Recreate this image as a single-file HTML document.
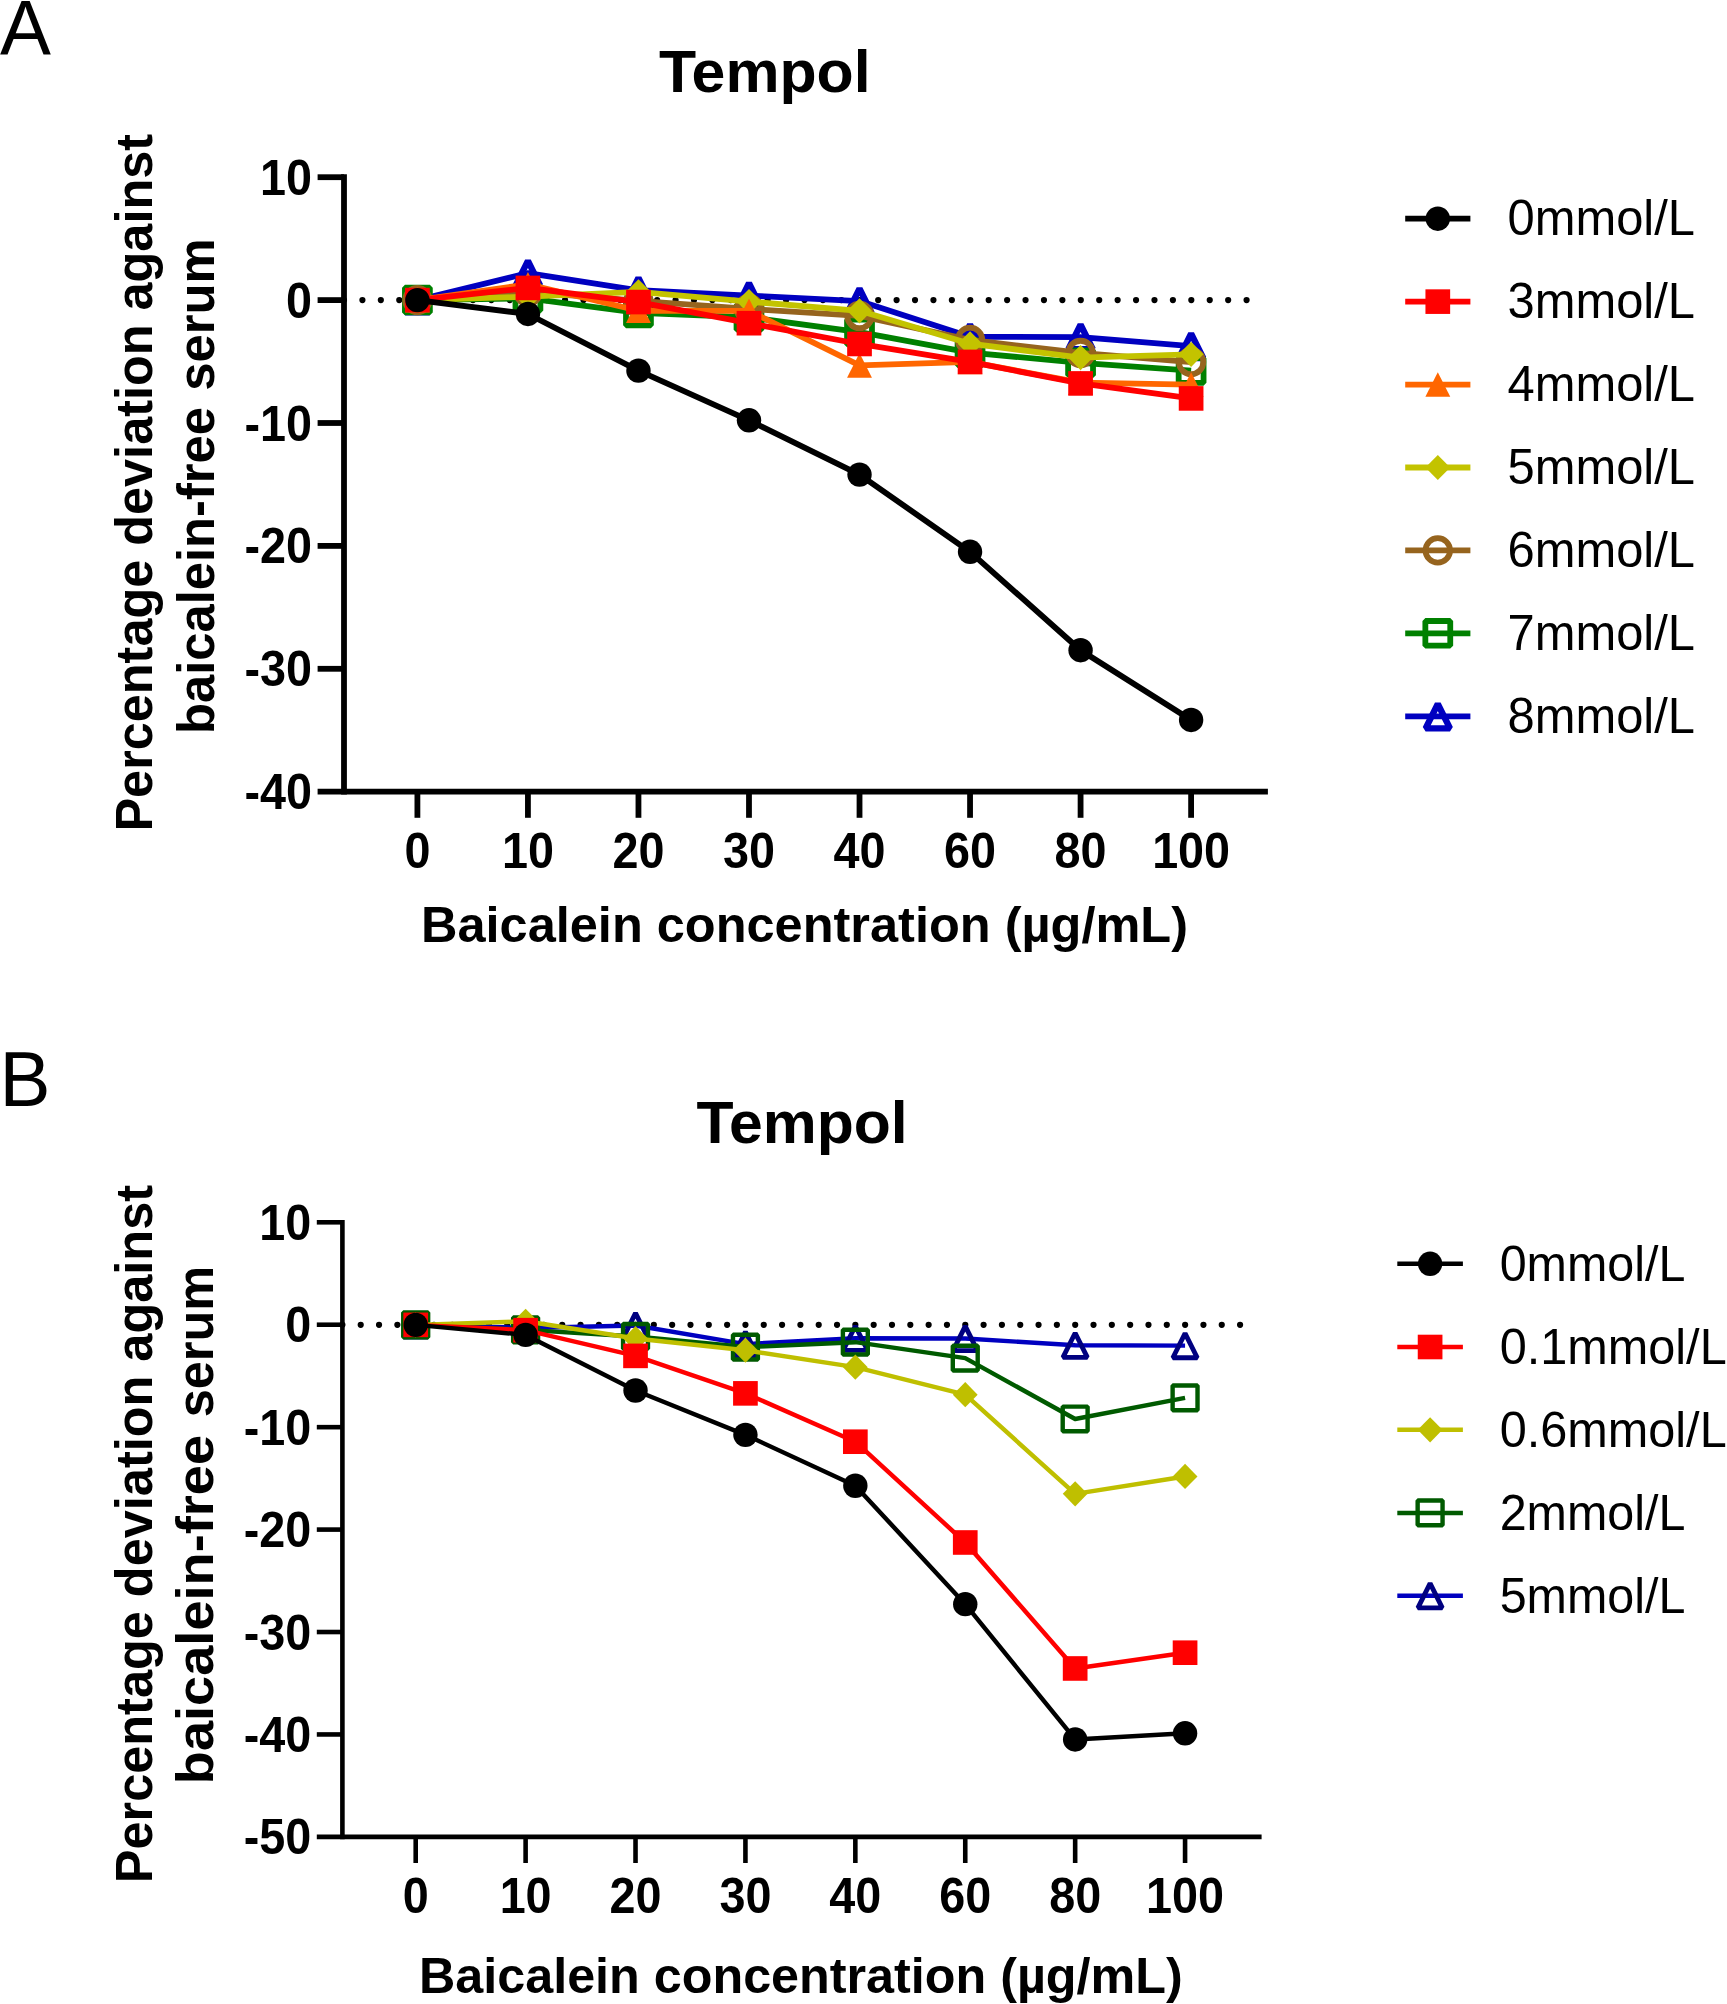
<!DOCTYPE html>
<html lang="en"><head><meta charset="utf-8"><title>Tempol - percentage deviation against baicalein-free serum</title>
<style>html,body{margin:0;padding:0;background:#fff}svg{display:block;filter:blur(0.5px)}text{font-family:"Liberation Sans", sans-serif;fill:#000}</style></head>
<body>
<svg width="1727" height="2004" viewBox="0 0 1727 2004">
<rect width="1727" height="2004" fill="#fff"/>
<text transform="translate(0,55.3) scale(0.972,1)" font-size="78.6">A</text>
<text transform="translate(-0.6,1105.6) scale(0.975,1)" font-size="78.4">B</text>
<g id="panelA">
<line x1="344" y1="300.1" x2="1250" y2="300.1" stroke="#000" stroke-width="6.2" stroke-linecap="round" stroke-dasharray="0 18.42"/>
<g><polyline points="417.4,300.1 527.93,273.18 638.46,290.27 748.99,295.55 859.52,301.08 970.05,336.85 1080.58,337.09 1191.11,346.06" fill="none" stroke="#0000C0" stroke-width="5.8" stroke-linejoin="round"/><polygon points="417.4,287.8 429.6,312.22 405.2,312.22" fill="none" stroke="#0000C0" stroke-width="6.35" stroke-linejoin="bevel"/><polygon points="527.93,260.88 540.13,285.3 515.73,285.3" fill="none" stroke="#0000C0" stroke-width="6.35" stroke-linejoin="bevel"/><polygon points="638.46,277.97 650.66,302.39 626.26,302.39" fill="none" stroke="#0000C0" stroke-width="6.35" stroke-linejoin="bevel"/><polygon points="748.99,283.25 761.19,307.67 736.79,307.67" fill="none" stroke="#0000C0" stroke-width="6.35" stroke-linejoin="bevel"/><polygon points="859.52,288.78 871.72,313.2 847.32,313.2" fill="none" stroke="#0000C0" stroke-width="6.35" stroke-linejoin="bevel"/><polygon points="970.05,324.55 982.25,348.97 957.85,348.97" fill="none" stroke="#0000C0" stroke-width="6.35" stroke-linejoin="bevel"/><polygon points="1080.58,324.79 1092.78,349.21 1068.38,349.21" fill="none" stroke="#0000C0" stroke-width="6.35" stroke-linejoin="bevel"/><polygon points="1191.11,333.76 1203.31,358.18 1178.91,358.18" fill="none" stroke="#0000C0" stroke-width="6.35" stroke-linejoin="bevel"/></g>
<g><polyline points="417.4,300.1 527.93,298.26 638.46,312.88 748.99,317.31 859.52,332.05 970.05,352.7 1080.58,362.78 1191.11,370.52" fill="none" stroke="#008000" stroke-width="5.8" stroke-linejoin="round"/><rect x="404.95" y="287.75" width="24.9" height="24.7" fill="none" stroke="#008000" stroke-width="5.8" stroke-linejoin="bevel"/><rect x="515.48" y="285.91" width="24.9" height="24.7" fill="none" stroke="#008000" stroke-width="5.8" stroke-linejoin="bevel"/><rect x="626.01" y="300.53" width="24.9" height="24.7" fill="none" stroke="#008000" stroke-width="5.8" stroke-linejoin="bevel"/><rect x="736.54" y="304.96" width="24.9" height="24.7" fill="none" stroke="#008000" stroke-width="5.8" stroke-linejoin="bevel"/><rect x="847.07" y="319.7" width="24.9" height="24.7" fill="none" stroke="#008000" stroke-width="5.8" stroke-linejoin="bevel"/><rect x="957.6" y="340.35" width="24.9" height="24.7" fill="none" stroke="#008000" stroke-width="5.8" stroke-linejoin="bevel"/><rect x="1068.13" y="350.43" width="24.9" height="24.7" fill="none" stroke="#008000" stroke-width="5.8" stroke-linejoin="bevel"/><rect x="1178.66" y="358.17" width="24.9" height="24.7" fill="none" stroke="#008000" stroke-width="5.8" stroke-linejoin="bevel"/></g>
<g><polyline points="417.4,300.1 527.93,291.74 638.46,300.96 748.99,308.95 859.52,315.95 970.05,339.92 1080.58,352.95 1191.11,362.04" fill="none" stroke="#96641E" stroke-width="5.8" stroke-linejoin="round"/><circle cx="417.4" cy="300.1" r="12.2" fill="none" stroke="#96641E" stroke-width="5.8"/><circle cx="527.93" cy="291.74" r="12.2" fill="none" stroke="#96641E" stroke-width="5.8"/><circle cx="638.46" cy="300.96" r="12.2" fill="none" stroke="#96641E" stroke-width="5.8"/><circle cx="748.99" cy="308.95" r="12.2" fill="none" stroke="#96641E" stroke-width="5.8"/><circle cx="859.52" cy="315.95" r="12.2" fill="none" stroke="#96641E" stroke-width="5.8"/><circle cx="970.05" cy="339.92" r="12.2" fill="none" stroke="#96641E" stroke-width="5.8"/><circle cx="1080.58" cy="352.95" r="12.2" fill="none" stroke="#96641E" stroke-width="5.8"/><circle cx="1191.11" cy="362.04" r="12.2" fill="none" stroke="#96641E" stroke-width="5.8"/></g>
<g><polyline points="417.4,300.1 527.93,296.66 638.46,291.87 748.99,301.57 859.52,310.79 970.05,343.73 1080.58,357.62 1191.11,354.3" fill="none" stroke="#C3C300" stroke-width="5.8" stroke-linejoin="round"/><polygon points="417.4,287.5 429.8,300.1 417.4,312.7 405,300.1" fill="#C3C300"/><polygon points="527.93,284.06 540.33,296.66 527.93,309.26 515.53,296.66" fill="#C3C300"/><polygon points="638.46,279.27 650.86,291.87 638.46,304.47 626.06,291.87" fill="#C3C300"/><polygon points="748.99,288.97 761.39,301.57 748.99,314.17 736.59,301.57" fill="#C3C300"/><polygon points="859.52,298.19 871.92,310.79 859.52,323.39 847.12,310.79" fill="#C3C300"/><polygon points="970.05,331.13 982.45,343.73 970.05,356.33 957.65,343.73" fill="#C3C300"/><polygon points="1080.58,345.02 1092.98,357.62 1080.58,370.22 1068.18,357.62" fill="#C3C300"/><polygon points="1191.11,341.7 1203.51,354.3 1191.11,366.9 1178.71,354.3" fill="#C3C300"/></g>
<g><polyline points="417.4,300.1 527.93,284.37 638.46,310.79 748.99,310.92 859.52,365.36 970.05,361.92 1080.58,382.69 1191.11,384.66" fill="none" stroke="#FF6600" stroke-width="5.8" stroke-linejoin="round"/><polygon points="417.4,287.8 429.85,312.4 404.95,312.4" fill="#FF6600"/><polygon points="527.93,272.07 540.38,296.67 515.48,296.67" fill="#FF6600"/><polygon points="638.46,298.49 650.91,323.09 626.01,323.09" fill="#FF6600"/><polygon points="748.99,298.62 761.44,323.22 736.54,323.22" fill="#FF6600"/><polygon points="859.52,353.06 871.97,377.66 847.07,377.66" fill="#FF6600"/><polygon points="970.05,349.62 982.5,374.22 957.6,374.22" fill="#FF6600"/><polygon points="1080.58,370.39 1093.03,394.99 1068.13,394.99" fill="#FF6600"/><polygon points="1191.11,372.36 1203.56,396.96 1178.66,396.96" fill="#FF6600"/></g>
<g><polyline points="417.4,300.1 527.93,287.93 638.46,302.07 748.99,323.21 859.52,343.98 970.05,361.92 1080.58,383.43 1191.11,398.42" fill="none" stroke="#FF0000" stroke-width="5.8" stroke-linejoin="round"/><rect x="405.05" y="287.8" width="24.7" height="24.6" fill="#FF0000"/><rect x="515.58" y="275.63" width="24.7" height="24.6" fill="#FF0000"/><rect x="626.11" y="289.77" width="24.7" height="24.6" fill="#FF0000"/><rect x="736.64" y="310.91" width="24.7" height="24.6" fill="#FF0000"/><rect x="847.17" y="331.68" width="24.7" height="24.6" fill="#FF0000"/><rect x="957.7" y="349.62" width="24.7" height="24.6" fill="#FF0000"/><rect x="1068.23" y="371.13" width="24.7" height="24.6" fill="#FF0000"/><rect x="1178.76" y="386.12" width="24.7" height="24.6" fill="#FF0000"/></g>
<g><polyline points="417.4,300.1 527.93,313.99 638.46,370.64 748.99,420.3 859.52,474.62 970.05,551.8 1080.58,650.24 1191.11,719.93" fill="none" stroke="#000000" stroke-width="5.8" stroke-linejoin="round"/><circle cx="417.4" cy="300.1" r="12.2" fill="#000000"/><circle cx="527.93" cy="313.99" r="12.2" fill="#000000"/><circle cx="638.46" cy="370.64" r="12.2" fill="#000000"/><circle cx="748.99" cy="420.3" r="12.2" fill="#000000"/><circle cx="859.52" cy="474.62" r="12.2" fill="#000000"/><circle cx="970.05" cy="551.8" r="12.2" fill="#000000"/><circle cx="1080.58" cy="650.24" r="12.2" fill="#000000"/><circle cx="1191.11" cy="719.93" r="12.2" fill="#000000"/></g>
<g stroke="#000" stroke-width="5.8" fill="none">
<line x1="344" y1="174.3" x2="344" y2="794.6"/>
<line x1="317.6" y1="791.7" x2="1267.9" y2="791.7"/>
<line x1="317.6" y1="177.2" x2="344" y2="177.2"/>
<line x1="317.6" y1="300.1" x2="344" y2="300.1"/>
<line x1="317.6" y1="423" x2="344" y2="423"/>
<line x1="317.6" y1="545.9" x2="344" y2="545.9"/>
<line x1="317.6" y1="668.8" x2="344" y2="668.8"/>
<line x1="417.4" y1="791.7" x2="417.4" y2="817.8"/>
<line x1="527.93" y1="791.7" x2="527.93" y2="817.8"/>
<line x1="638.46" y1="791.7" x2="638.46" y2="817.8"/>
<line x1="748.99" y1="791.7" x2="748.99" y2="817.8"/>
<line x1="859.52" y1="791.7" x2="859.52" y2="817.8"/>
<line x1="970.05" y1="791.7" x2="970.05" y2="817.8"/>
<line x1="1080.58" y1="791.7" x2="1080.58" y2="817.8"/>
<line x1="1191.11" y1="791.7" x2="1191.11" y2="817.8"/>
</g>
<g font-weight="bold" font-size="49.45">
<text transform="translate(417.4,868) scale(0.945,1)" text-anchor="middle">0</text>
<text transform="translate(527.93,868) scale(0.945,1)" text-anchor="middle">10</text>
<text transform="translate(638.46,868) scale(0.945,1)" text-anchor="middle">20</text>
<text transform="translate(748.99,868) scale(0.945,1)" text-anchor="middle">30</text>
<text transform="translate(859.52,868) scale(0.945,1)" text-anchor="middle">40</text>
<text transform="translate(970.05,868) scale(0.945,1)" text-anchor="middle">60</text>
<text transform="translate(1080.58,868) scale(0.945,1)" text-anchor="middle">80</text>
<text transform="translate(1191.11,868) scale(0.945,1)" text-anchor="middle">100</text>
<text transform="translate(312,194.7) scale(0.945,1)" text-anchor="end">10</text>
<text transform="translate(312,317.6) scale(0.945,1)" text-anchor="end">0</text>
<text transform="translate(312,440.5) scale(0.945,1)" text-anchor="end">-10</text>
<text transform="translate(312,563.4) scale(0.945,1)" text-anchor="end">-20</text>
<text transform="translate(312,686.3) scale(0.945,1)" text-anchor="end">-30</text>
<text transform="translate(312,809.2) scale(0.945,1)" text-anchor="end">-40</text>
</g>
<text x="659.0" y="91.7" font-size="58.9" font-weight="bold" textLength="211.6" lengthAdjust="spacingAndGlyphs">Tempol</text>
<text x="421.0" y="942.2" font-size="50.3" font-weight="bold" textLength="767" lengthAdjust="spacingAndGlyphs">Baicalein concentration (µg/mL)</text>
<g transform="rotate(-90)" font-size="51.3" font-weight="bold">
<text x="-831.5" y="152.2" textLength="697.5" lengthAdjust="spacingAndGlyphs">Percentage deviation against</text>
<text x="-734" y="213.8" textLength="327" lengthAdjust="spacingAndGlyphs">baicalein-free</text>
<text x="-390.7" y="213.8" textLength="152.4" lengthAdjust="spacingAndGlyphs">serum</text>
</g>
<g><line x1="1405.2" y1="218.7" x2="1470.4" y2="218.7" stroke="#000000" stroke-width="5.8"/><circle cx="1437.8" cy="218.7" r="12.2" fill="#000000"/><text x="1507.5" y="235.2" font-size="50" textLength="187.5" lengthAdjust="spacingAndGlyphs">0mmol/L</text></g>
<g><line x1="1405.2" y1="301.63" x2="1470.4" y2="301.63" stroke="#FF0000" stroke-width="5.8"/><rect x="1425.45" y="289.33" width="24.7" height="24.6" fill="#FF0000"/><text x="1507.5" y="318.13" font-size="50" textLength="187.5" lengthAdjust="spacingAndGlyphs">3mmol/L</text></g>
<g><line x1="1405.2" y1="384.56" x2="1470.4" y2="384.56" stroke="#FF6600" stroke-width="5.8"/><polygon points="1437.8,372.26 1450.25,396.86 1425.35,396.86" fill="#FF6600"/><text x="1507.5" y="401.06" font-size="50" textLength="187.5" lengthAdjust="spacingAndGlyphs">4mmol/L</text></g>
<g><line x1="1405.2" y1="467.49" x2="1470.4" y2="467.49" stroke="#C3C300" stroke-width="5.8"/><polygon points="1437.8,454.89 1450.2,467.49 1437.8,480.09 1425.4,467.49" fill="#C3C300"/><text x="1507.5" y="483.99" font-size="50" textLength="187.5" lengthAdjust="spacingAndGlyphs">5mmol/L</text></g>
<g><line x1="1405.2" y1="550.42" x2="1470.4" y2="550.42" stroke="#96641E" stroke-width="5.8"/><circle cx="1437.8" cy="550.42" r="12.2" fill="none" stroke="#96641E" stroke-width="5.8"/><text x="1507.5" y="566.92" font-size="50" textLength="187.5" lengthAdjust="spacingAndGlyphs">6mmol/L</text></g>
<g><line x1="1405.2" y1="633.35" x2="1470.4" y2="633.35" stroke="#008000" stroke-width="5.8"/><rect x="1425.35" y="621" width="24.9" height="24.7" fill="none" stroke="#008000" stroke-width="5.8" stroke-linejoin="bevel"/><text x="1507.5" y="649.85" font-size="50" textLength="187.5" lengthAdjust="spacingAndGlyphs">7mmol/L</text></g>
<g><line x1="1405.2" y1="716.28" x2="1470.4" y2="716.28" stroke="#0000C0" stroke-width="5.8"/><polygon points="1437.8,703.98 1450,728.4 1425.6,728.4" fill="none" stroke="#0000C0" stroke-width="6.35" stroke-linejoin="bevel"/><text x="1507.5" y="732.78" font-size="50" textLength="187.5" lengthAdjust="spacingAndGlyphs">8mmol/L</text></g>
</g>
<g id="panelB">
<line x1="342.4" y1="1324.85" x2="1244" y2="1324.85" stroke="#000" stroke-width="6.2" stroke-linecap="round" stroke-dasharray="0 18.32"/>
<g><polyline points="415.7,1324.85 525.61,1327.92 635.52,1325.46 745.43,1344.1 855.34,1338.27 965.25,1338.47 1075.16,1345.33 1185.07,1345.64" fill="none" stroke="#0000C0" stroke-width="4.45" stroke-linejoin="round"/><polygon points="415.7,1312.55 427.9,1336.97 403.5,1336.97" fill="none" stroke="#000080" stroke-width="4.82" stroke-linejoin="bevel"/><polygon points="525.61,1315.62 537.81,1340.04 513.41,1340.04" fill="none" stroke="#000080" stroke-width="4.82" stroke-linejoin="bevel"/><polygon points="635.52,1313.16 647.72,1337.58 623.32,1337.58" fill="none" stroke="#000080" stroke-width="4.82" stroke-linejoin="bevel"/><polygon points="745.43,1331.8 757.63,1356.22 733.23,1356.22" fill="none" stroke="#000080" stroke-width="4.82" stroke-linejoin="bevel"/><polygon points="855.34,1325.97 867.54,1350.39 843.14,1350.39" fill="none" stroke="#000080" stroke-width="4.82" stroke-linejoin="bevel"/><polygon points="965.25,1326.17 977.45,1350.59 953.05,1350.59" fill="none" stroke="#000080" stroke-width="4.82" stroke-linejoin="bevel"/><polygon points="1075.16,1333.03 1087.36,1357.45 1062.96,1357.45" fill="none" stroke="#000080" stroke-width="4.82" stroke-linejoin="bevel"/><polygon points="1185.07,1333.34 1197.27,1357.76 1172.87,1357.76" fill="none" stroke="#000080" stroke-width="4.82" stroke-linejoin="bevel"/></g>
<g><polyline points="415.7,1324.85 525.61,1329.87 635.52,1336.42 745.43,1347.08 855.34,1342.16 965.25,1358.14 1075.16,1418.97 1185.07,1397.88" fill="none" stroke="#005A00" stroke-width="4.45" stroke-linejoin="round"/><rect x="403.25" y="1312.5" width="24.9" height="24.7" fill="none" stroke="#005A00" stroke-width="4.4" stroke-linejoin="bevel"/><rect x="513.16" y="1317.52" width="24.9" height="24.7" fill="none" stroke="#005A00" stroke-width="4.4" stroke-linejoin="bevel"/><rect x="623.07" y="1324.07" width="24.9" height="24.7" fill="none" stroke="#005A00" stroke-width="4.4" stroke-linejoin="bevel"/><rect x="732.98" y="1334.73" width="24.9" height="24.7" fill="none" stroke="#005A00" stroke-width="4.4" stroke-linejoin="bevel"/><rect x="842.89" y="1329.81" width="24.9" height="24.7" fill="none" stroke="#005A00" stroke-width="4.4" stroke-linejoin="bevel"/><rect x="952.8" y="1345.79" width="24.9" height="24.7" fill="none" stroke="#005A00" stroke-width="4.4" stroke-linejoin="bevel"/><rect x="1062.71" y="1406.62" width="24.9" height="24.7" fill="none" stroke="#005A00" stroke-width="4.4" stroke-linejoin="bevel"/><rect x="1172.62" y="1385.53" width="24.9" height="24.7" fill="none" stroke="#005A00" stroke-width="4.4" stroke-linejoin="bevel"/></g>
<g><polyline points="415.7,1324.85 525.61,1321.27 635.52,1338.57 745.43,1350.25 855.34,1367.15 965.25,1394.7 1075.16,1493.84 1185.07,1476.43" fill="none" stroke="#BFBF00" stroke-width="4.45" stroke-linejoin="round"/><polygon points="415.7,1312.25 428.1,1324.85 415.7,1337.45 403.3,1324.85" fill="#BFBF00"/><polygon points="525.61,1308.67 538.01,1321.27 525.61,1333.87 513.21,1321.27" fill="#BFBF00"/><polygon points="635.52,1325.97 647.92,1338.57 635.52,1351.17 623.12,1338.57" fill="#BFBF00"/><polygon points="745.43,1337.65 757.83,1350.25 745.43,1362.85 733.03,1350.25" fill="#BFBF00"/><polygon points="855.34,1354.55 867.74,1367.15 855.34,1379.75 842.94,1367.15" fill="#BFBF00"/><polygon points="965.25,1382.1 977.65,1394.7 965.25,1407.3 952.85,1394.7" fill="#BFBF00"/><polygon points="1075.16,1481.24 1087.56,1493.84 1075.16,1506.44 1062.76,1493.84" fill="#BFBF00"/><polygon points="1185.07,1463.83 1197.47,1476.43 1185.07,1489.03 1172.67,1476.43" fill="#BFBF00"/></g>
<g><polyline points="415.7,1324.85 525.61,1330.18 635.52,1355.88 745.43,1393.37 855.34,1441.71 965.25,1542.49 1075.16,1668.47 1185.07,1652.7" fill="none" stroke="#FF0000" stroke-width="4.45" stroke-linejoin="round"/><rect x="403.35" y="1312.55" width="24.7" height="24.6" fill="#FF0000"/><rect x="513.26" y="1317.88" width="24.7" height="24.6" fill="#FF0000"/><rect x="623.17" y="1343.58" width="24.7" height="24.6" fill="#FF0000"/><rect x="733.08" y="1381.07" width="24.7" height="24.6" fill="#FF0000"/><rect x="842.99" y="1429.41" width="24.7" height="24.6" fill="#FF0000"/><rect x="952.9" y="1530.19" width="24.7" height="24.6" fill="#FF0000"/><rect x="1062.81" y="1656.17" width="24.7" height="24.6" fill="#FF0000"/><rect x="1172.72" y="1640.4" width="24.7" height="24.6" fill="#FF0000"/></g>
<g><polyline points="415.7,1324.85 525.61,1334.89 635.52,1390.5 745.43,1434.85 855.34,1485.75 965.25,1604.15 1075.16,1739.45 1185.07,1733.3" fill="none" stroke="#000000" stroke-width="4.45" stroke-linejoin="round"/><circle cx="415.7" cy="1324.85" r="12.2" fill="#000000"/><circle cx="525.61" cy="1334.89" r="12.2" fill="#000000"/><circle cx="635.52" cy="1390.5" r="12.2" fill="#000000"/><circle cx="745.43" cy="1434.85" r="12.2" fill="#000000"/><circle cx="855.34" cy="1485.75" r="12.2" fill="#000000"/><circle cx="965.25" cy="1604.15" r="12.2" fill="#000000"/><circle cx="1075.16" cy="1739.45" r="12.2" fill="#000000"/><circle cx="1185.07" cy="1733.3" r="12.2" fill="#000000"/></g>
<g stroke="#000" stroke-width="4.6" fill="none">
<line x1="342.4" y1="1220" x2="342.4" y2="1839.2"/>
<line x1="316.8" y1="1836.9" x2="1261.6" y2="1836.9"/>
<line x1="316.8" y1="1222.3" x2="342.4" y2="1222.3"/>
<line x1="316.8" y1="1324.73" x2="342.4" y2="1324.73"/>
<line x1="316.8" y1="1427.16" x2="342.4" y2="1427.16"/>
<line x1="316.8" y1="1529.59" x2="342.4" y2="1529.59"/>
<line x1="316.8" y1="1632.02" x2="342.4" y2="1632.02"/>
<line x1="316.8" y1="1734.45" x2="342.4" y2="1734.45"/>
<line x1="415.7" y1="1836.9" x2="415.7" y2="1863"/>
<line x1="525.61" y1="1836.9" x2="525.61" y2="1863"/>
<line x1="635.52" y1="1836.9" x2="635.52" y2="1863"/>
<line x1="745.43" y1="1836.9" x2="745.43" y2="1863"/>
<line x1="855.34" y1="1836.9" x2="855.34" y2="1863"/>
<line x1="965.25" y1="1836.9" x2="965.25" y2="1863"/>
<line x1="1075.16" y1="1836.9" x2="1075.16" y2="1863"/>
<line x1="1185.07" y1="1836.9" x2="1185.07" y2="1863"/>
</g>
<g font-weight="bold" font-size="49.45">
<text transform="translate(415.7,1913) scale(0.945,1)" text-anchor="middle">0</text>
<text transform="translate(525.61,1913) scale(0.945,1)" text-anchor="middle">10</text>
<text transform="translate(635.52,1913) scale(0.945,1)" text-anchor="middle">20</text>
<text transform="translate(745.43,1913) scale(0.945,1)" text-anchor="middle">30</text>
<text transform="translate(855.34,1913) scale(0.945,1)" text-anchor="middle">40</text>
<text transform="translate(965.25,1913) scale(0.945,1)" text-anchor="middle">60</text>
<text transform="translate(1075.16,1913) scale(0.945,1)" text-anchor="middle">80</text>
<text transform="translate(1185.07,1913) scale(0.945,1)" text-anchor="middle">100</text>
<text transform="translate(311.2,1239.8) scale(0.945,1)" text-anchor="end">10</text>
<text transform="translate(311.2,1342.23) scale(0.945,1)" text-anchor="end">0</text>
<text transform="translate(311.2,1444.66) scale(0.945,1)" text-anchor="end">-10</text>
<text transform="translate(311.2,1547.09) scale(0.945,1)" text-anchor="end">-20</text>
<text transform="translate(311.2,1649.52) scale(0.945,1)" text-anchor="end">-30</text>
<text transform="translate(311.2,1751.95) scale(0.945,1)" text-anchor="end">-40</text>
<text transform="translate(311.2,1854.38) scale(0.945,1)" text-anchor="end">-50</text>
</g>
<text x="696.5" y="1142.5" font-size="58.9" font-weight="bold" textLength="211.2" lengthAdjust="spacingAndGlyphs">Tempol</text>
<text x="419.0" y="1992.6" font-size="50.3" font-weight="bold" textLength="763.7" lengthAdjust="spacingAndGlyphs">Baicalein concentration (µg/mL)</text>
<g transform="rotate(-90)" font-size="51.3" font-weight="bold">
<text x="-1883.2" y="151.8" textLength="698.2" lengthAdjust="spacingAndGlyphs">Percentage deviation against</text>
<text x="-1784.2" y="212.9" textLength="349.3" lengthAdjust="spacingAndGlyphs">baicalein-free</text>
<text x="-1417.3" y="212.9" textLength="151.5" lengthAdjust="spacingAndGlyphs">serum</text>
</g>
<g><line x1="1397.3" y1="1263.8" x2="1462.9" y2="1263.8" stroke="#000000" stroke-width="4.45"/><circle cx="1430.1" cy="1263.8" r="12.2" fill="#000000"/><text x="1499.7" y="1280.7" font-size="50" textLength="185.7" lengthAdjust="spacingAndGlyphs">0mmol/L</text></g>
<g><line x1="1397.3" y1="1347" x2="1462.9" y2="1347" stroke="#FF0000" stroke-width="4.45"/><rect x="1417.75" y="1334.7" width="24.7" height="24.6" fill="#FF0000"/><text x="1499.7" y="1363.9" font-size="50" textLength="227" lengthAdjust="spacingAndGlyphs">0.1mmol/L</text></g>
<g><line x1="1397.3" y1="1429.8" x2="1462.9" y2="1429.8" stroke="#BFBF00" stroke-width="4.45"/><polygon points="1430.1,1417.2 1442.5,1429.8 1430.1,1442.4 1417.7,1429.8" fill="#BFBF00"/><text x="1499.7" y="1446.7" font-size="50" textLength="227" lengthAdjust="spacingAndGlyphs">0.6mmol/L</text></g>
<g><line x1="1397.3" y1="1512.9" x2="1462.9" y2="1512.9" stroke="#005A00" stroke-width="4.45"/><rect x="1417.65" y="1500.55" width="24.9" height="24.7" fill="none" stroke="#005A00" stroke-width="4.4" stroke-linejoin="bevel"/><text x="1499.7" y="1529.8" font-size="50" textLength="185.7" lengthAdjust="spacingAndGlyphs">2mmol/L</text></g>
<g><line x1="1397.3" y1="1595.7" x2="1462.9" y2="1595.7" stroke="#0000C0" stroke-width="4.45"/><polygon points="1430.1,1583.4 1442.3,1607.82 1417.9,1607.82" fill="none" stroke="#000080" stroke-width="4.82" stroke-linejoin="bevel"/><text x="1499.7" y="1612.6" font-size="50" textLength="185.7" lengthAdjust="spacingAndGlyphs">5mmol/L</text></g>
</g>
</svg>
</body></html>
